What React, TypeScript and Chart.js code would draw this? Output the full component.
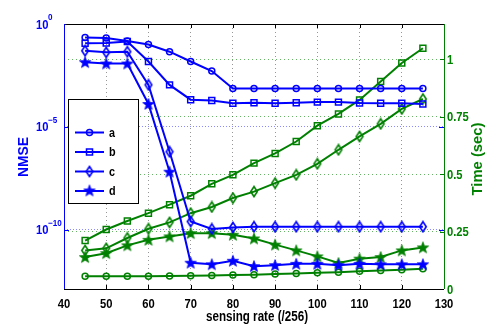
import React, { useEffect, useRef } from "react";
import { Chart, registerables } from "chart.js";
Chart.register(...registerables);

const RATES = [45, 50, 55, 60, 65, 70, 75, 80, 85, 90, 95, 100, 105, 110, 115, 120, 125];
const SERIES_NAMES = ["a", "b", "c", "d"];

const NMSE_A = [2.2e-1, 2.1e-1, 1.5e-1, 1.0e-1, 4.5e-2, 1.5e-2, 5.2e-3, 7.4e-4, 7.4e-4, 7.4e-4, 7.4e-4, 7.4e-4, 7.4e-4, 7.4e-4, 7.4e-4, 7.4e-4, 7.4e-4];
const NMSE_B = [1.15e-1, 1.2e-1, 1.4e-1, 1.5e-2, 1.1e-3, 2.1e-4, 1.9e-4, 1.4e-4, 1.5e-4, 1.4e-4, 1.5e-4, 1.6e-4, 1.6e-4, 1.45e-4, 1.4e-4, 1.4e-4, 1.3e-4];
const NMSE_C = [5.0e-2, 4.2e-2, 4.5e-2, 1.1e-3, 6.2e-7, 2.5e-10, 1.1e-10, 1.3e-10, 1.4e-10, 1.4e-10, 1.4e-10, 1.4e-10, 1.4e-10, 1.4e-10, 1.4e-10, 1.4e-10, 1.4e-10];
const NMSE_D = [1.4e-2, 1.2e-2, 1.2e-2, 1.3e-4, 6.6e-8, 2.5e-12, 2.1e-12, 3.1e-12, 1.7e-12, 1.9e-12, 2.2e-12, 2.2e-12, 1.9e-12, 2.2e-12, 2.1e-12, 2.1e-12, 2.1e-12];

const TIME_A = [0.055, 0.055, 0.055, 0.056, 0.057, 0.058, 0.059, 0.061, 0.062, 0.065, 0.068, 0.071, 0.073, 0.077, 0.080, 0.084, 0.088];
const TIME_B = [0.211, 0.259, 0.296, 0.330, 0.367, 0.406, 0.458, 0.497, 0.548, 0.590, 0.642, 0.711, 0.762, 0.823, 0.903, 0.984, 1.048];
const TIME_C = [0.168, 0.177, 0.222, 0.262, 0.290, 0.330, 0.357, 0.396, 0.424, 0.461, 0.497, 0.545, 0.606, 0.664, 0.719, 0.784, 0.827];
const TIME_D = [0.139, 0.156, 0.190, 0.214, 0.229, 0.243, 0.243, 0.236, 0.220, 0.193, 0.168, 0.142, 0.113, 0.132, 0.139, 0.168, 0.181];

const X_TICKS = [40, 50, 60, 70, 80, 90, 100, 110, 120, 130];
const NMSE_TICKS = [1e-10, 1e-5, 1];
const NMSE_EXPONENTS = ["\u221210", "\u22125", "0"];
const TIME_TICKS = [0, 0.25, 0.5, 0.75, 1];
const X_TITLE = "sensing rate (/256)";
const Y_TITLE = "NMSE";
const Y2_TITLE = "Time (sec)";

const BLUE = "#0000ff";
const GREEN = "#008000";
const FONT = "'Liberation Sans', Arial, sans-serif";

function makeStar(color: string) {
  const c = document.createElement("canvas");
  c.width = 14;
  c.height = 14;
  const g = c.getContext("2d")!;
  g.beginPath();
  for (let i = 0; i < 10; i++) {
    const a = -Math.PI / 2 + (i * Math.PI) / 5;
    const r = i % 2 === 0 ? 6 : 2.5;
    const px = 7 + r * Math.cos(a);
    const py = 7.5 + r * Math.sin(a);
    if (i === 0) g.moveTo(px, py);
    else g.lineTo(px, py);
  }
  g.closePath();
  g.fillStyle = color;
  g.fill();
  g.strokeStyle = color;
  g.lineWidth = 0.8;
  g.stroke();
  return c;
}

function makeDiamond(color: string) {
  const c = document.createElement("canvas");
  c.width = 10;
  c.height = 13;
  const g = c.getContext("2d")!;
  g.beginPath();
  g.moveTo(5, 1.5);
  g.lineTo(8.3, 6.5);
  g.lineTo(5, 11.5);
  g.lineTo(1.7, 6.5);
  g.closePath();
  g.strokeStyle = color;
  g.lineWidth = 1.6;
  g.stroke();
  return c;
}

// draw text horizontally condensed (emulates the narrow Helvetica look)
function drawText(
  ctx: CanvasRenderingContext2D,
  text: string,
  x: number,
  y: number,
  font: string,
  color: string,
  align: "left" | "center" | "right",
  sx: number,
  rotate = 0,
  targetWidth = 0
) {
  ctx.save();
  ctx.font = font;
  ctx.fillStyle = color;
  ctx.textBaseline = "middle";
  ctx.textAlign = align;
  ctx.translate(x, y);
  if (rotate) ctx.rotate(rotate);
  let s = sx;
  if (targetWidth > 0) s = targetWidth / ctx.measureText(text).width;
  ctx.scale(s, 1);
  ctx.fillText(text, 0, 0);
  ctx.restore();
}

export default function App() {
  const ref = useRef<HTMLCanvasElement | null>(null);

  useEffect(() => {
    document.body.style.margin = "0";
    const canvas = ref.current!;
    const blueStar = makeStar(BLUE);
    const greenStar = makeStar(GREEN);
    const blueDiamond = makeDiamond(BLUE);
    const greenDiamond = makeDiamond(GREEN);

    const pts = (ys: number[]) => RATES.map((x, i) => ({ x, y: ys[i] }));
    const radii = [3, 4.2, 4, 5];
    const mk = (ys: number[], i: number, color: string, axis: string) => {
      let ps: any = i === 0 ? "circle" : "rect";
      if (i === 2) ps = color === BLUE ? blueDiamond : greenDiamond;
      if (i === 3) ps = color === BLUE ? blueStar : greenStar;
      return {
        label: SERIES_NAMES[i],
        data: pts(ys),
        yAxisID: axis,
        borderColor: color,
        borderWidth: 2,
        pointStyle: ps,
        pointRadius: radii[i],
        pointBorderColor: color,
        pointBackgroundColor: "rgba(0,0,0,0)",
        pointBorderWidth: 1.5,
        fill: false,
        tension: 0,
      };
    };

    const datasets = [
      mk(NMSE_A, 0, BLUE, "y"),
      mk(NMSE_B, 1, BLUE, "y"),
      mk(NMSE_C, 2, BLUE, "y"),
      mk(NMSE_D, 3, BLUE, "y"),
      mk(TIME_A, 0, GREEN, "y2"),
      mk(TIME_B, 1, GREEN, "y2"),
      mk(TIME_C, 2, GREEN, "y2"),
      mk(TIME_D, 3, GREEN, "y2"),
    ];

    const decor = {
      id: "decor",
      afterDraw(chart: any) {
        const { ctx, chartArea: a, scales } = chart;
        const xs = scales.x;
        const yl = scales.y;
        const yr = scales.y2;
        ctx.save();
        // inward tick marks
        ctx.lineWidth = 1;
        ctx.strokeStyle = "#000";
        X_TICKS.forEach((v) => {
          const px = Math.round(xs.getPixelForValue(v)) + 0.5;
          ctx.beginPath();
          ctx.moveTo(px, a.bottom);
          ctx.lineTo(px, a.bottom - 4);
          ctx.moveTo(px, a.top);
          ctx.lineTo(px, a.top + 4);
          ctx.stroke();
        });
        ctx.strokeStyle = BLUE;
        NMSE_TICKS.forEach((v) => {
          const py = Math.round(yl.getPixelForValue(v)) + 0.5;
          ctx.beginPath();
          ctx.moveTo(a.left, py);
          ctx.lineTo(a.left + 5, py);
          ctx.moveTo(a.right, py);
          ctx.lineTo(a.right - 5, py);
          ctx.stroke();
        });
        ctx.strokeStyle = GREEN;
        TIME_TICKS.forEach((v) => {
          const py = Math.round(yr.getPixelForValue(v)) + 0.5;
          ctx.beginPath();
          ctx.moveTo(a.right, py);
          ctx.lineTo(a.right - 4, py);
          ctx.stroke();
        });
        // axis lines
        ctx.strokeStyle = "#000";
        ctx.beginPath();
        ctx.moveTo(a.left, Math.round(a.top) + 0.5);
        ctx.lineTo(a.right, Math.round(a.top) + 0.5);
        ctx.moveTo(a.left, Math.round(a.bottom) + 0.5);
        ctx.lineTo(a.right, Math.round(a.bottom) + 0.5);
        ctx.stroke();
        ctx.strokeStyle = BLUE;
        ctx.beginPath();
        ctx.moveTo(Math.round(a.left) + 0.5, a.top);
        ctx.lineTo(Math.round(a.left) + 0.5, a.bottom);
        ctx.stroke();
        ctx.strokeStyle = GREEN;
        ctx.beginPath();
        ctx.moveTo(Math.round(a.right) + 0.5, a.top);
        ctx.lineTo(Math.round(a.right) + 0.5, a.bottom);
        ctx.stroke();
        ctx.restore();

        const tickFont = "bold 13px " + FONT;
        // x tick labels
        X_TICKS.forEach((v) => {
          drawText(ctx, String(v), xs.getPixelForValue(v), a.bottom + 15, tickFont, "#000", "center", 0.86);
        });
        // right tick labels
        TIME_TICKS.forEach((v) => {
          drawText(ctx, String(v), a.right + 3, yr.getPixelForValue(v) + 1, tickFont, GREEN, "left", 0.86);
        });
        // left tick labels 10^k
        NMSE_TICKS.forEach((v, i) => {
          const py = yl.getPixelForValue(v);
          const x0 = 36;
          drawText(ctx, "10", x0, py + 1, tickFont, BLUE, "left", 0.86);
          drawText(ctx, NMSE_EXPONENTS[i], x0 + 12, py - 6, "bold 9px " + FONT, BLUE, "left", 0.9);
        });

        // axis titles
        drawText(ctx, X_TITLE, 257, 317, "bold 14px " + FONT, "#000", "center", 1, 0, 102);
        drawText(ctx, Y_TITLE, 24, 157, "bold 14px " + FONT, BLUE, "center", 1, -Math.PI / 2, 40);
        drawText(ctx, Y2_TITLE, 478, 159, "bold 14px " + FONT, GREEN, "center", 1, -Math.PI / 2, 73);

        // legend
        ctx.save();
        const lx = 68.5, ly = 99.5, lw = 70, lh = 104;
        ctx.fillStyle = "#fff";
        ctx.fillRect(lx, ly, lw, lh);
        ctx.strokeStyle = "#000";
        ctx.lineWidth = 1;
        ctx.strokeRect(lx, ly, lw, lh);
        const rowsY = [132.5, 152, 171.5, 191];
        rowsY.forEach((ry, i) => {
          ctx.strokeStyle = BLUE;
          ctx.lineWidth = 2;
          ctx.beginPath();
          ctx.moveTo(75, ry);
          ctx.lineTo(104, ry);
          ctx.stroke();
          const mx = 89.5;
          ctx.lineWidth = 1.5;
          if (i === 0) {
            ctx.beginPath();
            ctx.arc(mx, ry, 3, 0, Math.PI * 2);
            ctx.stroke();
          } else if (i === 1) {
            ctx.strokeRect(mx - 3, ry - 3, 6, 6);
          } else if (i === 2) {
            ctx.drawImage(blueDiamond, mx - 5, ry - 6.5);
          } else {
            ctx.drawImage(blueStar, mx - 7, ry - 7.5);
          }
          drawText(ctx, SERIES_NAMES[i], 109, ry + 1, "bold 12px " + FONT, "#000", "left", 0.9);
        });
        ctx.restore();
      },
    };

    const chart = new Chart(canvas, {
      type: "line",
      data: { datasets: datasets as any },
      options: {
        responsive: false,
        maintainAspectRatio: false,
        animation: false,
        layout: { padding: { top: 24, left: 0, right: 0, bottom: 0 } },
        plugins: { legend: { display: false }, tooltip: { enabled: false } },
        scales: {
          x: {
            type: "linear",
            min: 40,
            max: 130,
            afterBuildTicks: (s: any) => {
              s.ticks = X_TICKS.map((v) => ({ value: v }));
            },
            afterFit: (s: any) => {
              s.height = 38;
            },
            ticks: { display: false },
            grid: {
              drawTicks: false,
              color: (c: any) =>
                c.tick && c.tick.value > 40 && c.tick.value < 130 ? "rgba(140,140,140,0.9)" : "rgba(0,0,0,0)",
              lineWidth: 1,
            },
            border: { display: false, dash: [1, 3] },
          },
          y: {
            type: "logarithmic",
            position: "left",
            min: Math.pow(10, -12.88),
            max: 1,
            afterBuildTicks: (s: any) => {
              s.ticks = NMSE_TICKS.map((v) => ({ value: v }));
            },
            afterFit: (s: any) => {
              s.width = 64;
            },
            ticks: { display: false },
            grid: {
              drawTicks: false,
              color: (c: any) => (c.tick && c.tick.value < 0.5 ? "rgba(110,110,255,0.8)" : "rgba(0,0,0,0)"),
              lineWidth: 1,
            },
            border: { display: false, dash: [1, 2] },
          },
          y2: {
            type: "linear",
            position: "right",
            min: 0,
            max: 1.1535,
            afterBuildTicks: (s: any) => {
              s.ticks = TIME_TICKS.map((v) => ({ value: v }));
            },
            afterFit: (s: any) => {
              s.width = 47;
            },
            ticks: { display: false },
            grid: {
              drawTicks: false,
              color: (c: any) => (c.tick && c.tick.value > 0 ? "rgba(0,128,0,0.6)" : "rgba(0,0,0,0)"),
              lineWidth: 1,
            },
            border: { display: false, dash: [1, 3] },
          },
        },
      },
      plugins: [decor],
    });
    return () => chart.destroy();
  }, []);

  return <canvas ref={ref} width={491} height={327} style={{ display: "block" }} />;
}
